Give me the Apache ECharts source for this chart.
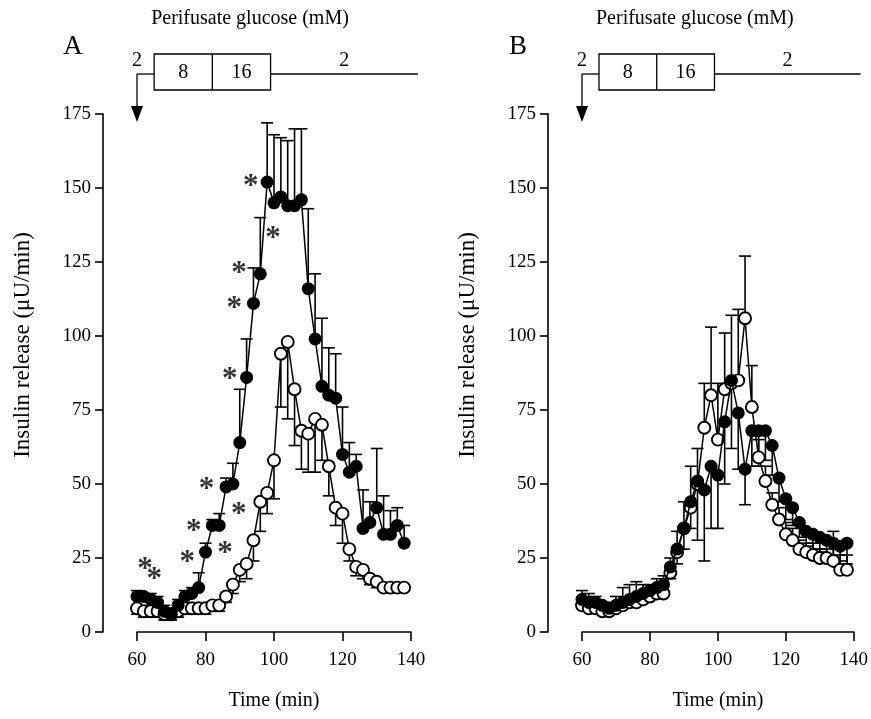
<!DOCTYPE html>
<html><head><meta charset="utf-8">
<script src="https://cdn.jsdelivr.net/npm/echarts@6/dist/echarts.min.js"></script>
<style>html,body{margin:0;padding:0;background:#fff}#c{width:871px;height:719px}</style>
</head><body><div id="c"></div>
<script>
// ---- data ----
const times = [60,62,64,66,68,70,72,74,76,78,80,82,84,86,88,90,92,94,96,98,100,102,104,106,108,110,112,114,116,118,120,122,124,126,128,130,132,134,136,138];

// Panel A
const aFilled    = [12,12,11,10,7,6,9,12,13,15, 27,36,36,49,50,64,86,111,121,152, 145,147,144,144,146,116,99,83,80,79, 60,54,56,35,37,42,33,33,36,30];
const aFilledErr = [14,13,13,12,9,8,11,14,15,20, 30,38,40,52,57,82,99,123,140,172, 168,167,166,170,170,143,121,106,96,94, 76,64,60,48,44,62,46,41,42,36];
const aOpen      = [8,7,7,7,6,6,7,8,8,8, 8,9,9,12,16,21,23,31,44,47, 58,94,98,82,68,67,72,70,56,42, 40,28,22,21,18,17,15,15,15,15];
const aOpenErr   = [6,5,5,5,4,4,5,6,6,6, 6,7,7,10,13,17,18,24,34,40, 45,76,72,63,55,54,54,58,46,36, 30,24,19,18,16,15,14,14,14,14];
const aStars = [[62.3,23.4],[65,20],[74.7,25.7],[76.6,36.1],[80.3,50.2],[85.7,28.8],[87.1,87.4],[88.4,111.4],[89.7,41.8],[89.8,123.4],[93.2,152.7],[99.7,135.2]];

// Panel B
const bFilled    = [11,10,10,9,8,9,10,11,12,13, 14,15,16,22,28,35,44,51,48,56, 53,71,85,74,55,68,68,68,63,52, 45,42,37,34,33,32,31,30,29,30];
const bFilledErr = [8,8,8,7,6,7,8,9,10,11, 12,13,13,18,23,28,35,31,24,35, 35,50,62,55,43,56,56,58,53,44, 38,36,32,29,28,27,26,25,24,23];
const bOpen      = [9,8,8,7,7,8,9,10,10,11, 12,13,13,20,27,35,42,50,69,80, 65,82,84,85,106,76,59,51,43,38, 33,31,28,27,26,25,25,24,21,21];
const bOpenErr   = [14,13,12,10,10,12,15,16,17,16, 16,18,19,25,34,44,56,62,84,103, 84,101,107,109,127,90,65,56,47,42, 37,35,31,30,30,28,28,34,26,26];

// Glucose protocol (mM) and switch times (min)
const glucoseLevels = ['2','8','16','2'];
const glucoseTimes = [60,65,82,99,142];
const panelLetters = ['A','B'];
const xTicks = {min:60, max:140, interval:20};
const yTicks = {min:0, max:175, interval:25};

// ---- chart ----
const FONT = '"Liberation Serif","Times New Roman",serif';
const chart = echarts.init(document.getElementById('c'), null, {renderer:'canvas'});
const grids = [{left:137, top:114, width:274, height:518},{left:582, top:114, width:273, height:518}];

function xAxis(i){return {gridIndex:i,type:'value',min:xTicks.min,max:xTicks.max,interval:xTicks.interval,
  axisLine:{onZero:false,lineStyle:{color:'#000',width:1.6}},axisTick:{length:9,lineStyle:{color:'#000',width:1.6}},
  axisLabel:{color:'#000',fontSize:19,fontFamily:FONT,margin:19},splitLine:{show:false},
  name:'Time (min)',nameLocation:'middle',nameGap:59,nameTextStyle:{color:'#000',fontSize:20,fontFamily:FONT}};}
function yAxis(i){return {gridIndex:i,type:'value',min:yTicks.min,max:yTicks.max,interval:yTicks.interval,offset:34,
  axisLine:{show:true,onZero:false,lineStyle:{color:'#000',width:1.6}},axisTick:{show:true,length:8,lineStyle:{color:'#000',width:1.6}},
  axisLabel:{color:'#000',fontSize:19,fontFamily:FONT,margin:12},splitLine:{show:false},
  name:'Insulin release (\u03bcU/min)',nameLocation:'middle',nameGap:69,
  nameTextStyle:{color:'#000',fontSize:23,fontFamily:FONT,padding:[0,0,0,56]}};}

function lineSeries(i, vals, filled){
  return {type:'line',xAxisIndex:i,yAxisIndex:i,data:times.map((t,k)=>[t,vals[k]]),
    symbol:'circle',symbolSize:filled?13:12,showAllSymbol:true,z:filled?5:4,
    lineStyle:{color:'#000',width:1.5},
    itemStyle:{color:filled?'#000':'#fff',borderColor:'#000',borderWidth:filled?0:1.9}};
}
function errSeries(i, vals, caps){
  return {type:'custom',xAxisIndex:i,yAxisIndex:i,z:2,data:times.map((t,k)=>[t,vals[k],caps[k]]),
    renderItem:function(params, api){
      const p1 = api.coord([api.value(0), api.value(1)]);
      const p2 = api.coord([api.value(0), api.value(2)]);
      const st = {stroke:'#000', lineWidth:1.6};
      return {type:'group',children:[
        {type:'line',shape:{x1:p1[0],y1:p1[1],x2:p2[0],y2:p2[1]},style:st},
        {type:'line',shape:{x1:p2[0]-6,y1:p2[1],x2:p2[0]+6,y2:p2[1]},style:st}
      ]};
    }};
}

const option = {
  animation:false,
  backgroundColor:'#fff',
  grid:grids,
  xAxis:[xAxis(0),xAxis(1)],
  yAxis:[yAxis(0),yAxis(1)],
  series:[
    errSeries(0,aFilled,aFilledErr), errSeries(0,aOpen,aOpenErr),
    lineSeries(0,aOpen,false), lineSeries(0,aFilled,true),
    {type:'scatter',xAxisIndex:0,yAxisIndex:0,data:aStars,symbolSize:1,itemStyle:{color:'rgba(0,0,0,0)'},z:6,
      label:{show:true,position:'inside',formatter:'*',fontSize:31,fontWeight:'bold',fontFamily:FONT,color:'#000',offset:[0,7],textBorderWidth:0}},
    errSeries(1,bOpen,bOpenErr), errSeries(1,bFilled,bFilledErr),
    lineSeries(1,bFilled,true), lineSeries(1,bOpen,false)
  ]
};
chart.setOption(option);

// ---- glucose protocol annotation ----
const graphics = [];
const st = {stroke:'#000', lineWidth:1.3, fill:null};
const tf = (txt,x,y,size,align)=>({type:'text',x:x,y:y,style:{text:txt,fill:'#000',font:size+'px '+FONT,textAlign:align||'center',textVerticalAlign:'middle'}});
[0,1].forEach(gi=>{
  const px = glucoseTimes.map(t=>chart.convertToPixel({xAxisIndex:gi,yAxisIndex:gi},[t,0])[0]);
  const yl = 74, yt = 54, yb = 90;
  graphics.push(tf(panelLetters[gi], grids[gi].left-64, 47, 27));
  graphics.push(tf('Perifusate glucose (mM)', px[1]-3, 19, 20, 'left'));
  graphics.push({type:'line',shape:{x1:px[0],y1:yl,x2:px[1],y2:yl},style:st});
  graphics.push({type:'line',shape:{x1:px[0],y1:yl,x2:px[0],y2:108},style:st});
  graphics.push({type:'polygon',shape:{points:[[px[0]-6,106],[px[0]+6,106],[px[0],122]]},style:{fill:'#000'}});
  graphics.push({type:'rect',shape:{x:px[1],y:yt,width:px[3]-px[1],height:yb-yt},style:st});
  graphics.push({type:'line',shape:{x1:px[2],y1:yt,x2:px[2],y2:yb},style:st});
  graphics.push({type:'line',shape:{x1:px[3],y1:yl,x2:px[4],y2:yl},style:st});
  graphics.push(tf(glucoseLevels[0], px[0], 61, 20));
  graphics.push(tf(glucoseLevels[1], (px[1]+px[2])/2, 73, 20));
  graphics.push(tf(glucoseLevels[2], (px[2]+px[3])/2, 73, 20));
  graphics.push(tf(glucoseLevels[3], (px[3]+px[4])/2, 61, 20));
});
chart.setOption({graphic:graphics});
</script>
</body></html>
